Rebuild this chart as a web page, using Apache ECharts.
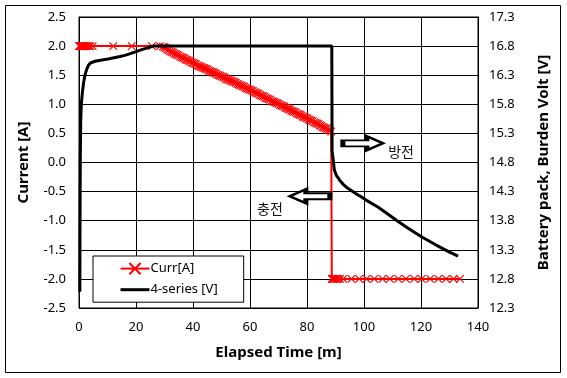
<!DOCTYPE html>
<html><head><meta charset="utf-8">
<script src="https://cdn.jsdelivr.net/npm/echarts@6/dist/echarts.min.js"></script>
<style>html,body{margin:0;padding:0;background:#fff}#c{width:567px;height:378px}</style>
</head><body><div id="c"></div>
<script>
const xTicks = [0, 20, 40, 60, 80, 100, 120, 140];
const leftTicks = [-2.5, -2.0, -1.5, -1.0, -0.5, 0.0, 0.5, 1.0, 1.5, 2.0, 2.5];
const rightTicks = [12.3, 12.8, 13.3, 13.8, 14.3, 14.8, 15.3, 15.8, 16.3, 16.8, 17.3];

const currT = [0,0.2,0.4,0.6,0.8,1.0,1.3,1.6,1.9,2.2,2.6,3.0,3.5,3.9,4.8,12.0,18.5,25.6,28.4,29.4,30.0,
  30.5,31,31.5,32,32.5,33,33.5,34,34.5,35,35.5,36,36.5,37,37.5,38,38.5,39,39.5,40,
  40.5,41,41.5,42,42.5,43,43.5,44,44.5,45,45.5,46,46.5,47,47.5,48,48.5,49,49.5,50,
  50.5,51,51.5,52,52.5,53,53.5,54,54.5,55,55.5,56,56.5,57,57.5,58,58.5,59,59.5,60,
  60.5,61,61.5,62,62.5,63,63.5,64,64.5,65,65.5,66,66.5,67,67.5,68,68.5,69,69.5,70,
  70.5,71,71.5,72,72.5,73,73.5,74,74.5,75,75.5,76,76.5,77,77.5,78,78.5,79,79.5,80,
  80.5,81,81.5,82,82.5,83,83.5,84,84.5,85,85.5,86,86.5,87,87.5,88,88.5,
  88.7,88.8,89.0,89.3,89.6,90.0,90.5,91.0,91.6,92.7,95.6,98.3,100.9,103.6,106.5,109.1,112.0,114.7,117.6,120.2,123.2,126.1,128.8,131.4,133.7];
const currA = [2.0,2.0,2.0,2.0,2.0,2.0,2.0,2.0,2.0,2.0,2.0,2.0,2.0,2.0,2.0,2.0,2.0,2.0,2.0,1.99,1.98,
  1.96,1.94,1.93,1.91,1.90,1.89,1.87,1.86,1.85,1.84,1.82,1.81,1.80,1.79,1.77,1.76,1.75,1.74,1.72,1.71,
  1.70,1.69,1.67,1.66,1.65,1.64,1.63,1.62,1.61,1.60,1.58,1.57,1.56,1.55,1.54,1.53,1.51,1.50,1.49,1.48,
  1.47,1.46,1.44,1.43,1.42,1.41,1.40,1.39,1.38,1.37,1.35,1.34,1.33,1.32,1.31,1.30,1.28,1.27,1.26,1.25,
  1.24,1.23,1.21,1.20,1.19,1.18,1.16,1.15,1.14,1.13,1.11,1.10,1.09,1.08,1.06,1.05,1.04,1.03,1.02,1.01,
  0.99,0.98,0.97,0.96,0.94,0.93,0.92,0.91,0.89,0.88,0.87,0.86,0.84,0.83,0.82,0.81,0.79,0.78,0.77,0.76,
  0.74,0.73,0.72,0.71,0.69,0.68,0.67,0.66,0.64,0.63,0.61,0.60,0.59,0.58,0.56,0.55,0.53,
  -2.0,-2.0,-2.0,-2.0,-2.0,-2.0,-2.0,-2.0,-2.0,-2.0,-2.0,-2.0,-2.0,-2.0,-2.0,-2.0,-2.0,-2.0,-2.0,-2.0,-2.0,-2.0,-2.0,-2.0,-2.0];

const voltT = [0.3,0.35,0.45,0.6,0.8,1.2,1.6,2.1,2.7,3.3,4.0,5.6,8.0,10.2,14.4,16.1,18.0,20.3,22.0,24.0,26.0,88.7,88.8,89.2,89.6,90.3,91.4,92.6,94.2,97.0,99.7,101.2,105.0,108.2,111.6,115.2,120.3,125.0,130.0,133.0];
const voltV = [12.58,13.6,14.8,15.5,15.8,16.01,16.17,16.3,16.4,16.47,16.51,16.54,16.56,16.58,16.62,16.64,16.67,16.71,16.74,16.77,16.80,16.80,15.0,14.85,14.67,14.58,14.50,14.43,14.36,14.27,14.19,14.14,14.03,13.92,13.80,13.68,13.52,13.39,13.26,13.19];

const seriesNames = ['Curr[A]', '4-series [V]'];

const FONT = '"Noto Sans", "Noto Sans CJK KR", sans-serif';
const cross = 'path://M0,0L10,10M10,0L0,10';
const arrowR = 'path://M0,4L24,4L24,0L40,7L24,14L24,10L0,10Z';

const chart = echarts.init(document.getElementById('c'), null, {renderer: 'canvas'});
chart.setOption({
  animation: false,
  backgroundColor: '#fff',
  textStyle: {fontFamily: FONT},
  grid: {left: 79, right: 89, top: 17, bottom: 70, show: true, borderColor: '#000', borderWidth: 1, containLabel: false},
  graphic: [{type: 'rect', shape: {x: 5.5, y: 5.5, width: 555, height: 367}, style: {fill: 'none', stroke: '#000', lineWidth: 1}, silent: true}],
  legend: {
    orient: 'vertical', left: 93, top: 256,
    backgroundColor: '#fff', borderColor: '#000', borderWidth: 1, borderRadius: 0,
    padding: [6, 26, 6, 26], itemWidth: 29, itemHeight: 14, itemGap: 8,
    textStyle: {fontFamily: FONT, fontSize: 13, color: '#000', padding: [0, 0, 0, -4]},
    data: [
      {name: seriesNames[0]},
      {name: seriesNames[1], lineStyle: {color: '#000', width: 3}, itemStyle: {color: 'rgba(0,0,0,0)', borderColor: 'rgba(0,0,0,0)', borderWidth: 0}}
    ]
  },
  xAxis: {
    type: 'value', min: xTicks[0], max: xTicks[xTicks.length - 1], interval: 20,
    name: 'Elapsed Time [m]', nameLocation: 'middle', nameGap: 37,
    nameTextStyle: {fontFamily: FONT, fontSize: 15, fontWeight: 'bold', color: '#000'},
    axisLine: {lineStyle: {color: '#000', width: 1}},
    axisTick: {show: false},
    axisLabel: {color: '#000', fontSize: 13, margin: 13, fontFamily: FONT},
    splitLine: {show: true, lineStyle: {color: '#000', width: 1}}
  },
  yAxis: [{
    type: 'value', min: leftTicks[0], max: leftTicks[leftTicks.length - 1], interval: 0.5,
    name: 'Current [A]', nameLocation: 'middle', nameGap: 48,
    nameTextStyle: {fontFamily: FONT, fontSize: 15, fontWeight: 'bold', color: '#000'},
    axisLine: {show: true, lineStyle: {color: '#000'}},
    axisTick: {show: false},
    axisLabel: {color: '#000', fontSize: 13, margin: 13, fontFamily: FONT, formatter: v => v.toFixed(1)},
    splitLine: {show: true, lineStyle: {color: '#000', width: 1}}
  }, {
    type: 'value', min: rightTicks[0], max: rightTicks[rightTicks.length - 1],
    name: 'Battery pack, Burden Volt [V]', nameLocation: 'middle', nameGap: 58,
    nameTextStyle: {fontFamily: FONT, fontSize: 15, fontWeight: 'bold', color: '#000'},
    axisLine: {show: true, lineStyle: {color: '#000'}},
    axisTick: {show: false},
    axisLabel: {color: '#000', fontSize: 13, margin: 11, fontFamily: FONT, customValues: rightTicks, formatter: v => Number(v).toFixed(1)},
    splitLine: {show: false}
  }],
  series: [{
    name: seriesNames[0], type: 'line', yAxisIndex: 0,
    data: currT.map((t, i) => [t, currA[i]]),
    symbol: cross, symbolSize: 7.5, showSymbol: true, showAllSymbol: true,
    itemStyle: {color: '#ff0000', borderColor: '#ff0000', borderWidth: 1.2},
    lineStyle: {color: '#ff0000', width: 2},
    z: 2,
    markPoint: {
      silent: true,
      data: [
        {coord: [99.6, 0.33], symbol: arrowR, symbolSize: [40, 14], itemStyle: {color: '#fff', borderColor: '#000', borderWidth: 3}, label: {show: false}},
        {coord: [81, -0.58], symbol: arrowR, symbolRotate: 180, symbolSize: [40, 14], itemStyle: {color: '#fff', borderColor: '#000', borderWidth: 3}, label: {show: false}},
        {coord: [113, 0.16], symbol: 'circle', symbolSize: 1, itemStyle: {color: 'rgba(0,0,0,0)'}, label: {show: true, position: 'inside', formatter: '방전', color: '#111', fontSize: 14, fontFamily: FONT}},
        {coord: [67, -0.82], symbol: 'circle', symbolSize: 1, itemStyle: {color: 'rgba(0,0,0,0)'}, label: {show: true, position: 'inside', formatter: '충전', color: '#111', fontSize: 14, fontFamily: FONT}}
      ]
    }
  }, {
    name: seriesNames[1], type: 'line', yAxisIndex: 1,
    data: voltT.map((t, i) => [t, voltV[i]]),
    symbol: 'none', showSymbol: false,
    itemStyle: {color: '#000'},
    lineStyle: {color: '#000', width: 3},
    z: 3
  }]
});
</script></body></html>
